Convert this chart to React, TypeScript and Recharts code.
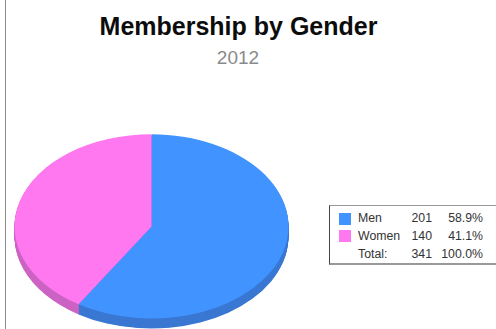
import { PieChart, Pie, Cell } from "recharts";

const categories = ["Men", "Women"];
const members = [201, 140];
const shares = ["58.9%", "41.1%"];
const totalLabel = "Total:";
const totalMembers = 341;
const totalShare = "100.0%";
const topColors = ["#4194FF", "#FF78F0"];
const rimColors = ["#3A78D2", "#CC64C4"];
// vertical offsets of the stacked rim layers, in chart units before squashing
const rimOffsets = [15, 14, 13, 12, 11, 10, 9, 8, 7, 6, 5, 4, 3, 2, 1];

const slices = categories.map((name, i) => ({ name, value: members[i] }));

const SQUASH = 0.672;
const CX = 151.5;
const CY = 139;
const RADIUS = 137;

const FONT = "'Liberation Sans', Arial, sans-serif";

const rowStyle = {
	position: "absolute",
	left: 0,
	right: 0,
	height: 17,
	lineHeight: "17px",
	color: "#333",
	fontSize: 12.3,
} as const;

const LegendRow = ({ top, swatchTop, color, name, count, share }) => (
	<div style={{ ...rowStyle, top }}>
		{color && (
			<div
				style={{
					position: "absolute",
					left: 9,
					top: swatchTop,
					width: 12,
					height: 12,
					background: color,
				}}
			/>
		)}
		<span style={{ position: "absolute", left: 28 }}>{name}</span>
		<span style={{ position: "absolute", left: 69, width: 33, textAlign: "right" }}>
			{count}
		</span>
		<span style={{ position: "absolute", left: 103, width: 50, textAlign: "right" }}>
			{share}
		</span>
	</div>
);

const App = () => {
	return (
		<div
			style={{
				position: "absolute",
				left: 0,
				top: 0,
				width: 496,
				height: 329,
				overflow: "hidden",
				background: "#fff",
				fontFamily: FONT,
			}}
		>
			<div
				style={{
					position: "absolute",
					left: 5,
					top: 0,
					width: 1,
					height: 329,
					background: "#8c8c8c",
				}}
			/>
			<div
				style={{
					position: "absolute",
					left: 0,
					width: 477,
					top: 12,
					textAlign: "center",
					fontSize: 25,
					fontWeight: "bold",
					color: "#0c0c0c",
				}}
			>
				Membership by Gender
			</div>
			<div
				style={{
					position: "absolute",
					left: 0,
					width: 476,
					top: 47,
					textAlign: "center",
					fontSize: 19,
					color: "#8a8a8a",
				}}
			>
				2012
			</div>

			{/* the pie is drawn round, then squashed into an ellipse */}
			<div
				style={{
					position: "absolute",
					left: 0,
					top: 132.6,
					transform: `scaleY(${SQUASH})`,
					transformOrigin: "top left",
				}}
			>
				<PieChart
					width={310}
					height={296}
					margin={{ top: 0, right: 0, bottom: 0, left: 0 }}
				>
					{rimOffsets.map((offset) => (
						<Pie
							key={offset}
							data={slices}
							dataKey="value"
							cx={CX}
							cy={CY + offset}
							outerRadius={RADIUS}
							startAngle={90}
							endAngle={-270}
							stroke="none"
							isAnimationActive={false}
						>
							{slices.map((s, i) => (
								<Cell key={s.name} fill={rimColors[i]} />
							))}
						</Pie>
					))}
					<Pie
						data={slices}
						dataKey="value"
						cx={CX}
						cy={CY}
						outerRadius={RADIUS}
						startAngle={90}
						endAngle={-270}
						stroke="none"
						isAnimationActive={false}
					>
						{slices.map((s, i) => (
							<Cell key={s.name} fill={topColors[i]} />
						))}
					</Pie>
				</PieChart>
			</div>

			<div
				style={{
					position: "absolute",
					left: 329,
					top: 205,
					width: 180,
					height: 60,
					boxSizing: "border-box",
					borderLeft: "1px solid #444",
					borderTop: "1px solid #999",
					borderBottom: "2px solid #999",
					background: "#fff",
				}}
			>
				{categories.map((name, i) => (
					<LegendRow
						key={name}
						top={4 + i * 18}
						swatchTop={3 - i}
						color={topColors[i]}
						name={name}
						count={members[i]}
						share={shares[i]}
					/>
				))}
				<LegendRow
					top={40}
					swatchTop={0}
					color={null}
					name={totalLabel}
					count={totalMembers}
					share={totalShare}
				/>
			</div>
		</div>
	);
};

export default App;
